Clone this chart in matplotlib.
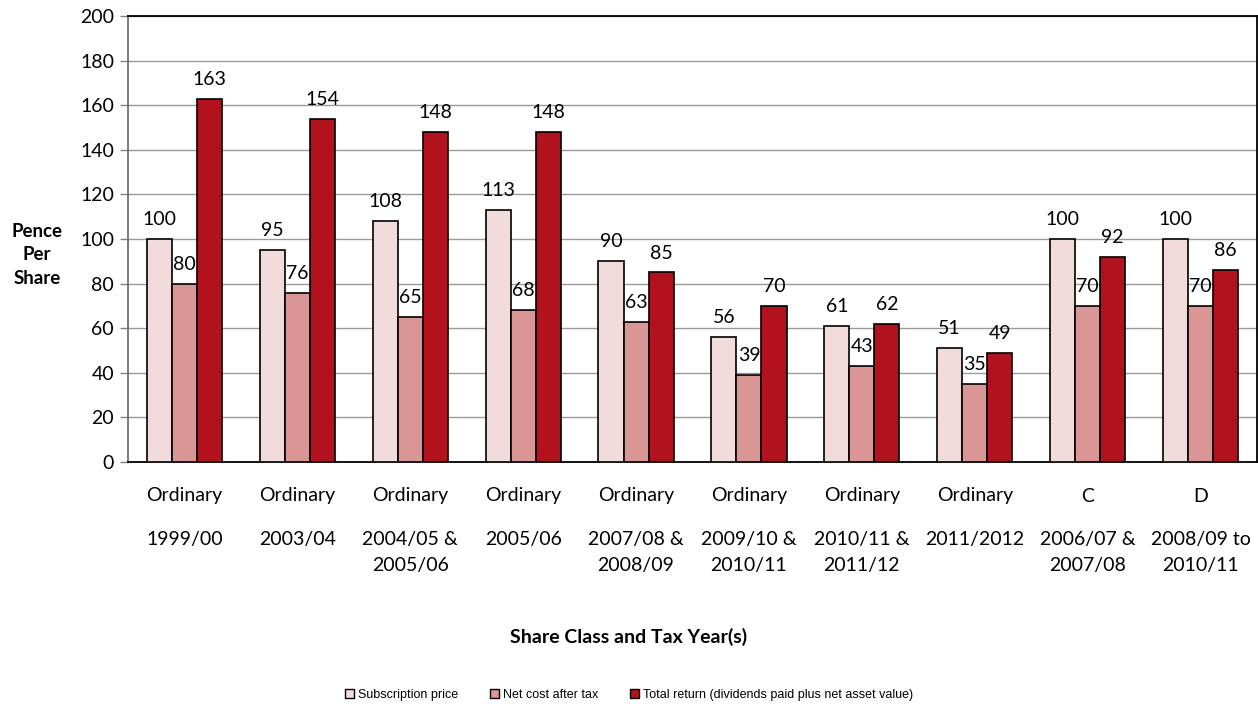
import numpy as np
import matplotlib
matplotlib.use("Agg")
import matplotlib.pyplot as plt
from matplotlib.patches import Patch
from matplotlib import transforms

plt.rcParams['font.family'] = ['Lato', 'DejaVu Sans']

# share classes and tax years
share_class = ["Ordinary", "Ordinary", "Ordinary", "Ordinary", "Ordinary",
               "Ordinary", "Ordinary", "Ordinary", "C", "D"]
tax_years = ["1999/00", "2003/04", "2004/05 &\n2005/06", "2005/06",
             "2007/08 &\n2008/09", "2009/10 &\n2010/11", "2010/11 &\n2011/12",
             "2011/2012", "2006/07 &\n2007/08", "2008/09 to\n2010/11"]

subscription = [100, 95, 108, 113, 90, 56, 61, 51, 100, 100]
net_cost = [80, 76, 65, 68, 63, 39, 43, 35, 70, 70]
total_return = [163, 154, 148, 148, 85, 70, 62, 49, 92, 86]

series_names = ["Subscription price", "Net cost after tax",
                "Total return (dividends paid plus net asset value)"]
colours = ["#F2DCDB", "#D99694", "#B2121D"]

fig = plt.figure(figsize=(12.58, 7.04), dpi=100)
ax = fig.add_axes([128 / 1258, 1 - 462 / 704, 1129 / 1258, 446 / 704])

x = np.arange(len(share_class))
w = 0.222
for i, vals in enumerate([subscription, net_cost, total_return]):
    pos = x + (i - 1) * w
    ax.bar(pos, vals, width=w, color=colours[i], edgecolor="black",
           linewidth=1.2, zorder=3)
    for px, v in zip(pos, vals):
        ax.annotate(str(v), (px, v), xytext=(0, 14), textcoords="offset points",
                    ha="center", va="center", fontsize=14, color="black")

ax.set_xlim(-0.5, len(share_class) - 0.5)
ax.set_ylim(0, 200)
ax.set_yticks(np.arange(0, 201, 20))
ax.tick_params(axis="y", labelsize=14, length=6, color="#808080", width=1, pad=4)
ax.set_xticks([])
ax.yaxis.grid(True, color="#9a9a9a", linewidth=1, zorder=0)

for side in ["top", "right", "bottom"]:
    ax.spines[side].set_color("black")
    ax.spines[side].set_linewidth(1.3)
ax.spines["left"].set_color("#707070")
ax.spines["left"].set_linewidth(1.3)

# category labels under the axis: class row, then one or two year rows
trans = ax.get_xaxis_transform()
for xi, sc, ty in zip(x, share_class, tax_years):
    rows = [sc] + ty.split("\n")
    for text, dy in zip(rows, [-34, -77, -104]):
        off = transforms.offset_copy(trans, fig=fig, y=dy, units="dots")
        ax.text(xi, 0, text, transform=off, ha="center", va="center", fontsize=14)

ax.text(37, 704 - 255, "Pence\nPer\nShare", transform=None, ha="center",
        va="center", fontsize=13.5, fontweight="bold", linespacing=1.45)
ax.text(629, 704 - 637, "Share Class and Tax Year(s)", transform=None,
        ha="center", va="center", fontsize=14, fontweight="bold")

handles = [Patch(facecolor=c, edgecolor="black", linewidth=1) for c in colours]
fig.legend(handles, series_names, loc="center", bbox_to_anchor=(629 / 1258, 1 - 695 / 704),
           ncol=3, frameon=False, handlelength=0.7, handleheight=0.7,
           handletextpad=0.3, columnspacing=2.6,
           prop={"family": ["Liberation Sans Narrow", "Liberation Sans"], "size": 9})

fig.savefig("out.png", dpi=100)
